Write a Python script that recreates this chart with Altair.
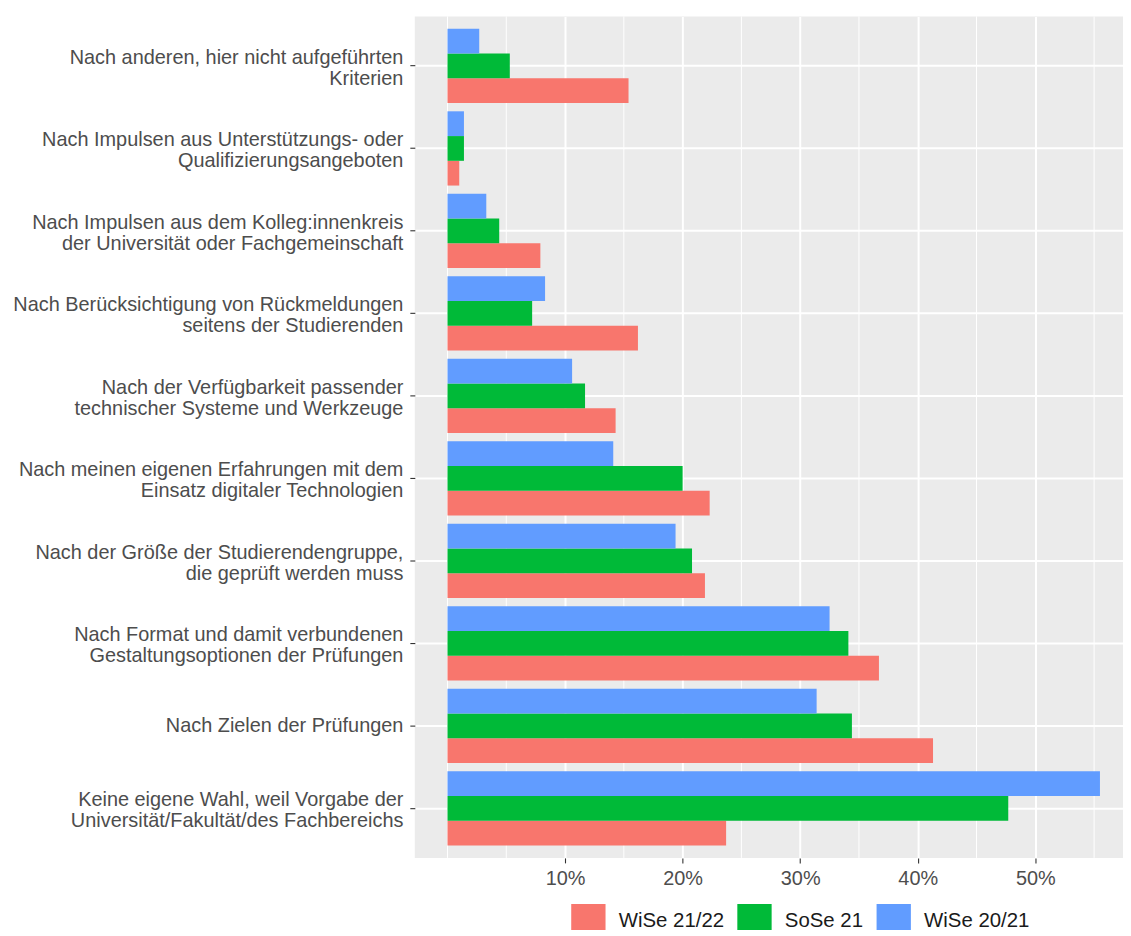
import altair as alt
import pandas as pd

categories = [
    "Nach anderen, hier nicht aufgeführten\nKriterien",
    "Nach Impulsen aus Unterstützungs- oder\nQualifizierungsangeboten",
    "Nach Impulsen aus dem Kolleg:innenkreis\nder Universität oder Fachgemeinschaft",
    "Nach Berücksichtigung von Rückmeldungen\nseitens der Studierenden",
    "Nach der Verfügbarkeit passender\ntechnischer Systeme und Werkzeuge",
    "Nach meinen eigenen Erfahrungen mit dem\nEinsatz digitaler Technologien",
    "Nach der Größe der Studierendengruppe,\ndie geprüft werden muss",
    "Nach Format und damit verbundenen\nGestaltungsoptionen der Prüfungen",
    "Nach Zielen der Prüfungen",
    "Keine eigene Wahl, weil Vorgabe der\nUniversität/Fakultät/des Fachbereichs",
]

series_names = ["WiSe 21/22", "SoSe 21", "WiSe 20/21"]
series_colors = ["#F8766D", "#00BA38", "#619CFF"]

wise_21_22 = [15.4, 1.0, 7.9, 16.2, 14.3, 22.3, 21.9, 36.7, 41.3, 23.7]
sose_21 = [5.3, 1.4, 4.4, 7.2, 11.7, 20.0, 20.8, 34.1, 34.4, 47.7]
wise_20_21 = [2.7, 1.4, 3.3, 8.3, 10.6, 14.1, 19.4, 32.5, 31.4, 55.5]

major_ticks = [10, 20, 30, 40, 50]
minor_ticks = [0, 5, 15, 25, 35, 45, 55]

rows = []
for name, vals in zip(series_names, [wise_21_22, sose_21, wise_20_21]):
    for cat, v in zip(categories, vals):
        rows.append({"category": cat, "series": name, "value": v})
df = pd.DataFrame(rows)
minor_df = pd.DataFrame({"value": minor_ticks})

FONT = "Liberation Sans"

x_enc = alt.X(
    "value:Q",
    scale=alt.Scale(domain=[-2.78, 57.46], nice=False, zero=False),
    axis=alt.Axis(
        values=major_ticks,
        labelExpr="datum.value + '%'",
        title=None,
        grid=True,
        gridColor="white",
        gridWidth=2,
        domain=False,
        tickColor="#333333",
        tickSize=5,
        tickWidth=1.1,
        labelPadding=6,
        labelFont=FONT,
        labelFontSize=20,
        labelColor="#4D4D4D",
    ),
)

minor = alt.Chart(minor_df).mark_rule(color="white", strokeWidth=1).encode(x=x_enc)

bars = alt.Chart(df).mark_bar().encode(
    x=x_enc,
    y=alt.Y(
        "category:N",
        sort=categories,
        scale=alt.Scale(paddingInner=0, paddingOuter=0.1),
        axis=alt.Axis(
            title=None,
            labelExpr="split(datum.label, '\\n')",
            labelOffset={
                "condition": {"test": "indexof(datum.label, '\\n') >= 0", "value": -8},
                "value": 0,
            },
            labelFont=FONT,
            labelFontSize=20,
            labelColor="#4D4D4D",
            labelLineHeight=21,
            labelLimit=600,
            labelPadding=7,
            tickColor="#333333",
            tickSize=5,
            tickWidth=1.1,
            domain=False,
            grid=True,
            gridColor="white",
            gridWidth=2,
            bandPosition=0.5,
        ),
    ),
    yOffset=alt.YOffset(
        "series:N",
        sort=["WiSe 20/21", "SoSe 21", "WiSe 21/22"],
        scale=alt.Scale(paddingInner=0, paddingOuter=1 / 6),
    ),
    color=alt.Color(
        "series:N",
        scale=alt.Scale(domain=series_names, range=series_colors),
        legend=alt.Legend(
            title=None,
            orient="none",
            direction="horizontal",
            legendX=157,
            legendY=892,
            symbolType="square",
            symbolSize=1190,
            symbolStrokeWidth=0,
            symbolOpacity=1,
            labelFont=FONT,
            labelFontSize=20.5,
            labelColor="#1A1A1A",
            labelOffset=13,
            columnPadding=13,
            padding=0,
        ),
    ),
)

chart = (
    alt.layer(minor, bars)
    .properties(
        width=712,
        height=846,
        padding={"left": 409, "top": 6, "right": 0, "bottom": 70},
        autosize=alt.AutoSizeParams(type="none"),
        background="white",
    )
    .configure_view(fill="#EBEBEB", strokeWidth=0)
)

chart.save("out.html", embed_options={"renderer": "svg", "actions": False})
